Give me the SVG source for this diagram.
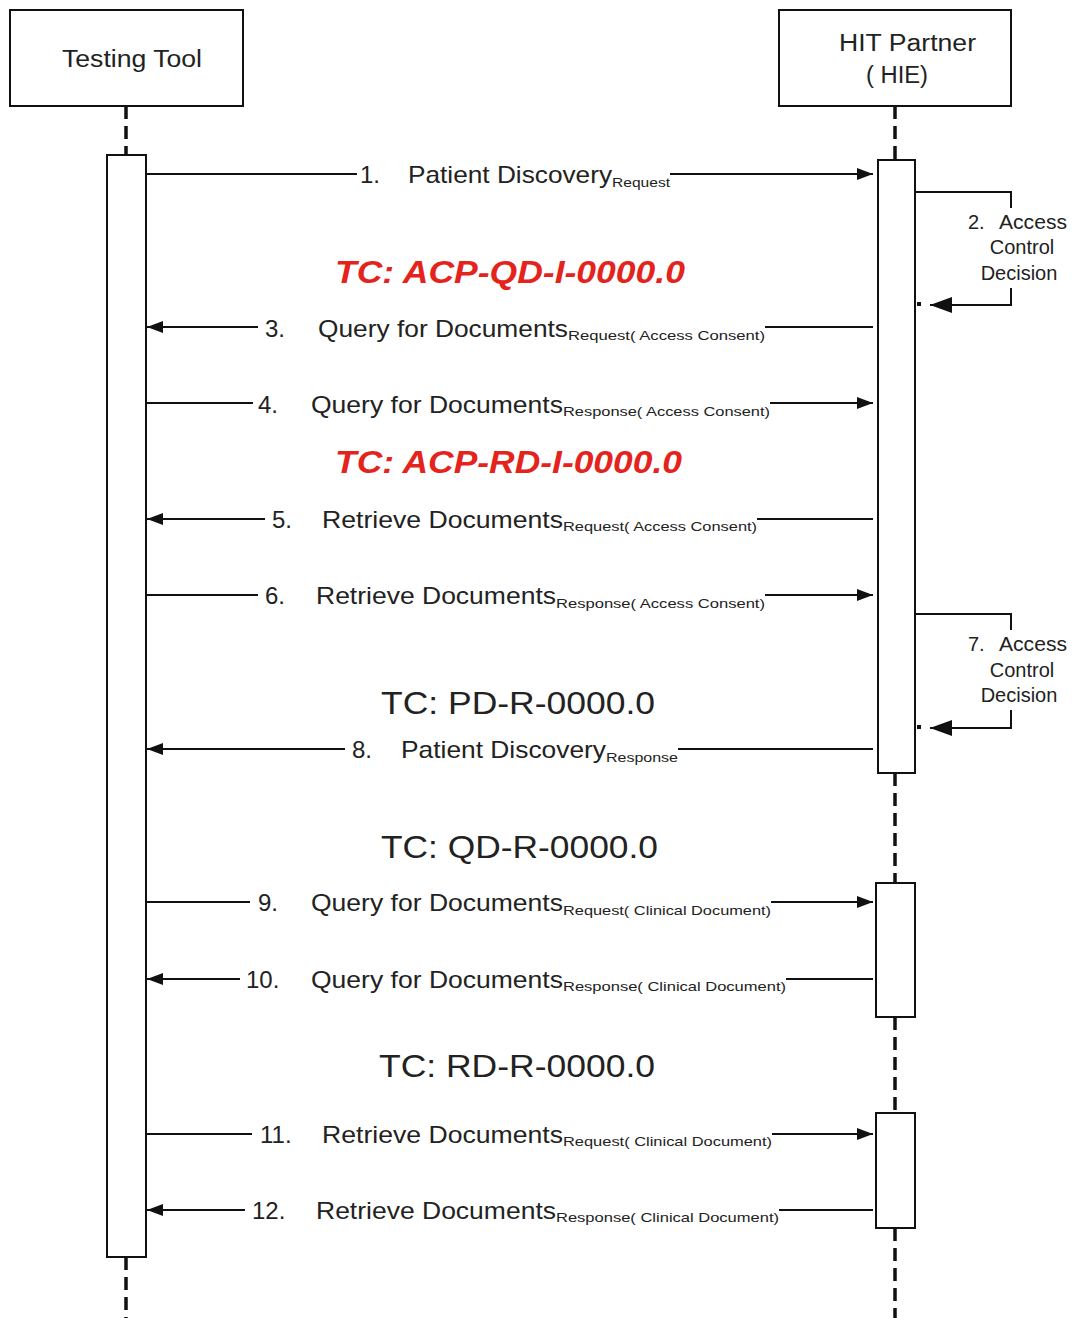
<svg xmlns="http://www.w3.org/2000/svg" width="1072" height="1318" viewBox="0 0 1072 1318">
<style>
.box{fill:#fff;stroke:#111;stroke-width:2}
.life{stroke:#111;stroke-width:3.5;stroke-dasharray:13 7;fill:none}
.msg{stroke:#111;stroke-width:2;fill:none}
.t{font-family:"Liberation Sans",Arial,sans-serif;fill:#222}
.m{font-size:24px}
.s{font-size:13px}
.h{font-size:23px}
.sc{font-size:20px;text-anchor:middle}
.tcr{font-family:"Liberation Sans",Arial,sans-serif;font-size:31px;font-weight:bold;font-style:italic;fill:#e5231d}
.tcb{font-family:"Liberation Sans",Arial,sans-serif;font-size:31px;fill:#222}
</style>
<defs>
<marker id="ah" viewBox="0 0 16 12" refX="16" refY="6" markerWidth="16" markerHeight="12" markerUnits="userSpaceOnUse" orient="auto">
<path d="M0,0 L16,6 L0,12 Z" fill="#111"/>
</marker>
<marker id="ahb" viewBox="0 0 22 16" refX="22" refY="8" markerWidth="22" markerHeight="16" markerUnits="userSpaceOnUse" orient="auto">
<path d="M0,0 L22,8 L0,16 Z" fill="#111"/>
</marker>
</defs>
<rect width="1072" height="1318" fill="#fff"/>

<g id="lifelines">
<path class="life" d="M126 106 V155 M126 1257 V1318"/>
<path class="life" d="M895 106 V160 M895 773 V883 M895 1017 V1113 M895 1228 V1318"/>
</g>

<g id="node-testing-tool">
<rect class="box" x="10" y="10" width="233" height="96"/>
<text class="t h" x="62" y="67" textLength="140" lengthAdjust="spacingAndGlyphs">Testing Tool</text>
</g>
<g id="node-hit-partner">
<rect class="box" x="779" y="10" width="232" height="96"/>
<text class="t h" x="839" y="51" textLength="137" lengthAdjust="spacingAndGlyphs">HIT Partner</text>
<text class="t h" x="866" y="83" textLength="62" lengthAdjust="spacingAndGlyphs">( HIE)</text>
</g>

<g id="activation-left"><rect class="box" x="107" y="155" width="39" height="1102"/></g>
<g id="activation-right-1"><rect class="box" x="878" y="160" width="37" height="613"/></g>
<g id="activation-right-2"><rect class="box" x="876" y="883" width="39" height="134"/></g>
<g id="activation-right-3"><rect class="box" x="876" y="1113" width="39" height="115"/></g>

<g id="connectors">
<path class="msg" d="M146 174 H357 M670 174 H873" marker-end="url(#ah)"/>
<path class="msg" d="M915 192 H1011 V208 M1011 288 V305 H952"/>
<path class="msg" d="M952 305 H930" marker-end="url(#ahb)"/>
<rect x="917" y="302" width="4" height="4" fill="#111"/>
<path class="msg" d="M873 327 H765 M258 327 H147" marker-end="url(#ah)"/>
<path class="msg" d="M146 403 H253 M770 403 H873" marker-end="url(#ah)"/>
<path class="msg" d="M873 519 H757 M265 519 H147" marker-end="url(#ah)"/>
<path class="msg" d="M146 595 H258 M765 595 H873" marker-end="url(#ah)"/>
<path class="msg" d="M915 614 H1011 V630 M1011 710 V728 H952"/>
<path class="msg" d="M952 728 H930" marker-end="url(#ahb)"/>
<rect x="917" y="725" width="4" height="4" fill="#111"/>
<path class="msg" d="M873 749 H678 M345 749 H147" marker-end="url(#ah)"/>
<path class="msg" d="M146 902 H250 M771 902 H873" marker-end="url(#ah)"/>
<path class="msg" d="M873 979 H786 M240 979 H147" marker-end="url(#ah)"/>
<path class="msg" d="M146 1134 H252 M772 1134 H873" marker-end="url(#ah)"/>
<path class="msg" d="M873 1210 H779 M245 1210 H147" marker-end="url(#ah)"/>
</g>

<g id="labels">
<text class="t m" x="360" y="183">1.</text>
<text class="t m" x="408" y="183" textLength="204" lengthAdjust="spacingAndGlyphs">Patient Discovery</text>
<text class="t s" x="612" y="187" textLength="58" lengthAdjust="spacingAndGlyphs">Request</text>

<text class="t" font-size="20" x="968" y="229">2.</text>
<text class="t" font-size="20" x="999" y="229" textLength="68" lengthAdjust="spacingAndGlyphs">Access</text>
<text class="t sc" x="1022" y="254">Control</text>
<text class="t sc" x="1019" y="280">Decision</text>

<text class="tcr" x="335" y="283" textLength="350" lengthAdjust="spacingAndGlyphs">TC: ACP-QD-I-0000.0</text>

<text class="t m" x="265" y="337">3.</text>
<text class="t m" x="318" y="337" textLength="250" lengthAdjust="spacingAndGlyphs">Query for Documents</text>
<text class="t s" x="568" y="340" textLength="197" lengthAdjust="spacingAndGlyphs">Request(  Access Consent)</text>

<text class="t m" x="258" y="413">4.</text>
<text class="t m" x="311" y="413" textLength="252" lengthAdjust="spacingAndGlyphs">Query for Documents</text>
<text class="t s" x="563" y="416" textLength="207" lengthAdjust="spacingAndGlyphs">Response(  Access Consent)</text>

<text class="tcr" x="335" y="473" textLength="347" lengthAdjust="spacingAndGlyphs">TC: ACP-RD-I-0000.0</text>

<text class="t m" x="272" y="528">5.</text>
<text class="t m" x="322" y="528" textLength="241" lengthAdjust="spacingAndGlyphs">Retrieve Documents</text>
<text class="t s" x="563" y="531" textLength="194" lengthAdjust="spacingAndGlyphs">Request(  Access Consent)</text>

<text class="t m" x="265" y="604">6.</text>
<text class="t m" x="316" y="604" textLength="240" lengthAdjust="spacingAndGlyphs">Retrieve Documents</text>
<text class="t s" x="556" y="608" textLength="209" lengthAdjust="spacingAndGlyphs">Response(  Access Consent)</text>

<text class="t" font-size="20" x="968" y="651">7.</text>
<text class="t" font-size="20" x="999" y="651" textLength="68" lengthAdjust="spacingAndGlyphs">Access</text>
<text class="t sc" x="1022" y="677">Control</text>
<text class="t sc" x="1019" y="702">Decision</text>

<text class="tcb" x="381" y="714" textLength="274" lengthAdjust="spacingAndGlyphs">TC: PD-R-0000.0</text>

<text class="t m" x="352" y="758">8.</text>
<text class="t m" x="401" y="758" textLength="205" lengthAdjust="spacingAndGlyphs">Patient Discovery</text>
<text class="t s" x="606" y="762" textLength="72" lengthAdjust="spacingAndGlyphs">Response</text>

<text class="tcb" x="381" y="858" textLength="277" lengthAdjust="spacingAndGlyphs">TC: QD-R-0000.0</text>

<text class="t m" x="258" y="911">9.</text>
<text class="t m" x="311" y="911" textLength="252" lengthAdjust="spacingAndGlyphs">Query for Documents</text>
<text class="t s" x="563" y="915" textLength="208" lengthAdjust="spacingAndGlyphs">Request(  Clinical Document)</text>

<text class="t m" x="246" y="988">10.</text>
<text class="t m" x="311" y="988" textLength="252" lengthAdjust="spacingAndGlyphs">Query for Documents</text>
<text class="t s" x="563" y="991" textLength="223" lengthAdjust="spacingAndGlyphs">Response(  Clinical Document)</text>

<text class="tcb" x="379" y="1077" textLength="276" lengthAdjust="spacingAndGlyphs">TC: RD-R-0000.0</text>

<text class="t m" x="260" y="1143">11.</text>
<text class="t m" x="322" y="1143" textLength="241" lengthAdjust="spacingAndGlyphs">Retrieve Documents</text>
<text class="t s" x="563" y="1146" textLength="209" lengthAdjust="spacingAndGlyphs">Request(  Clinical Document)</text>

<text class="t m" x="252" y="1219">12.</text>
<text class="t m" x="316" y="1219" textLength="240" lengthAdjust="spacingAndGlyphs">Retrieve Documents</text>
<text class="t s" x="556" y="1222" textLength="223" lengthAdjust="spacingAndGlyphs">Response(  Clinical Document)</text>
</g>
</svg>
